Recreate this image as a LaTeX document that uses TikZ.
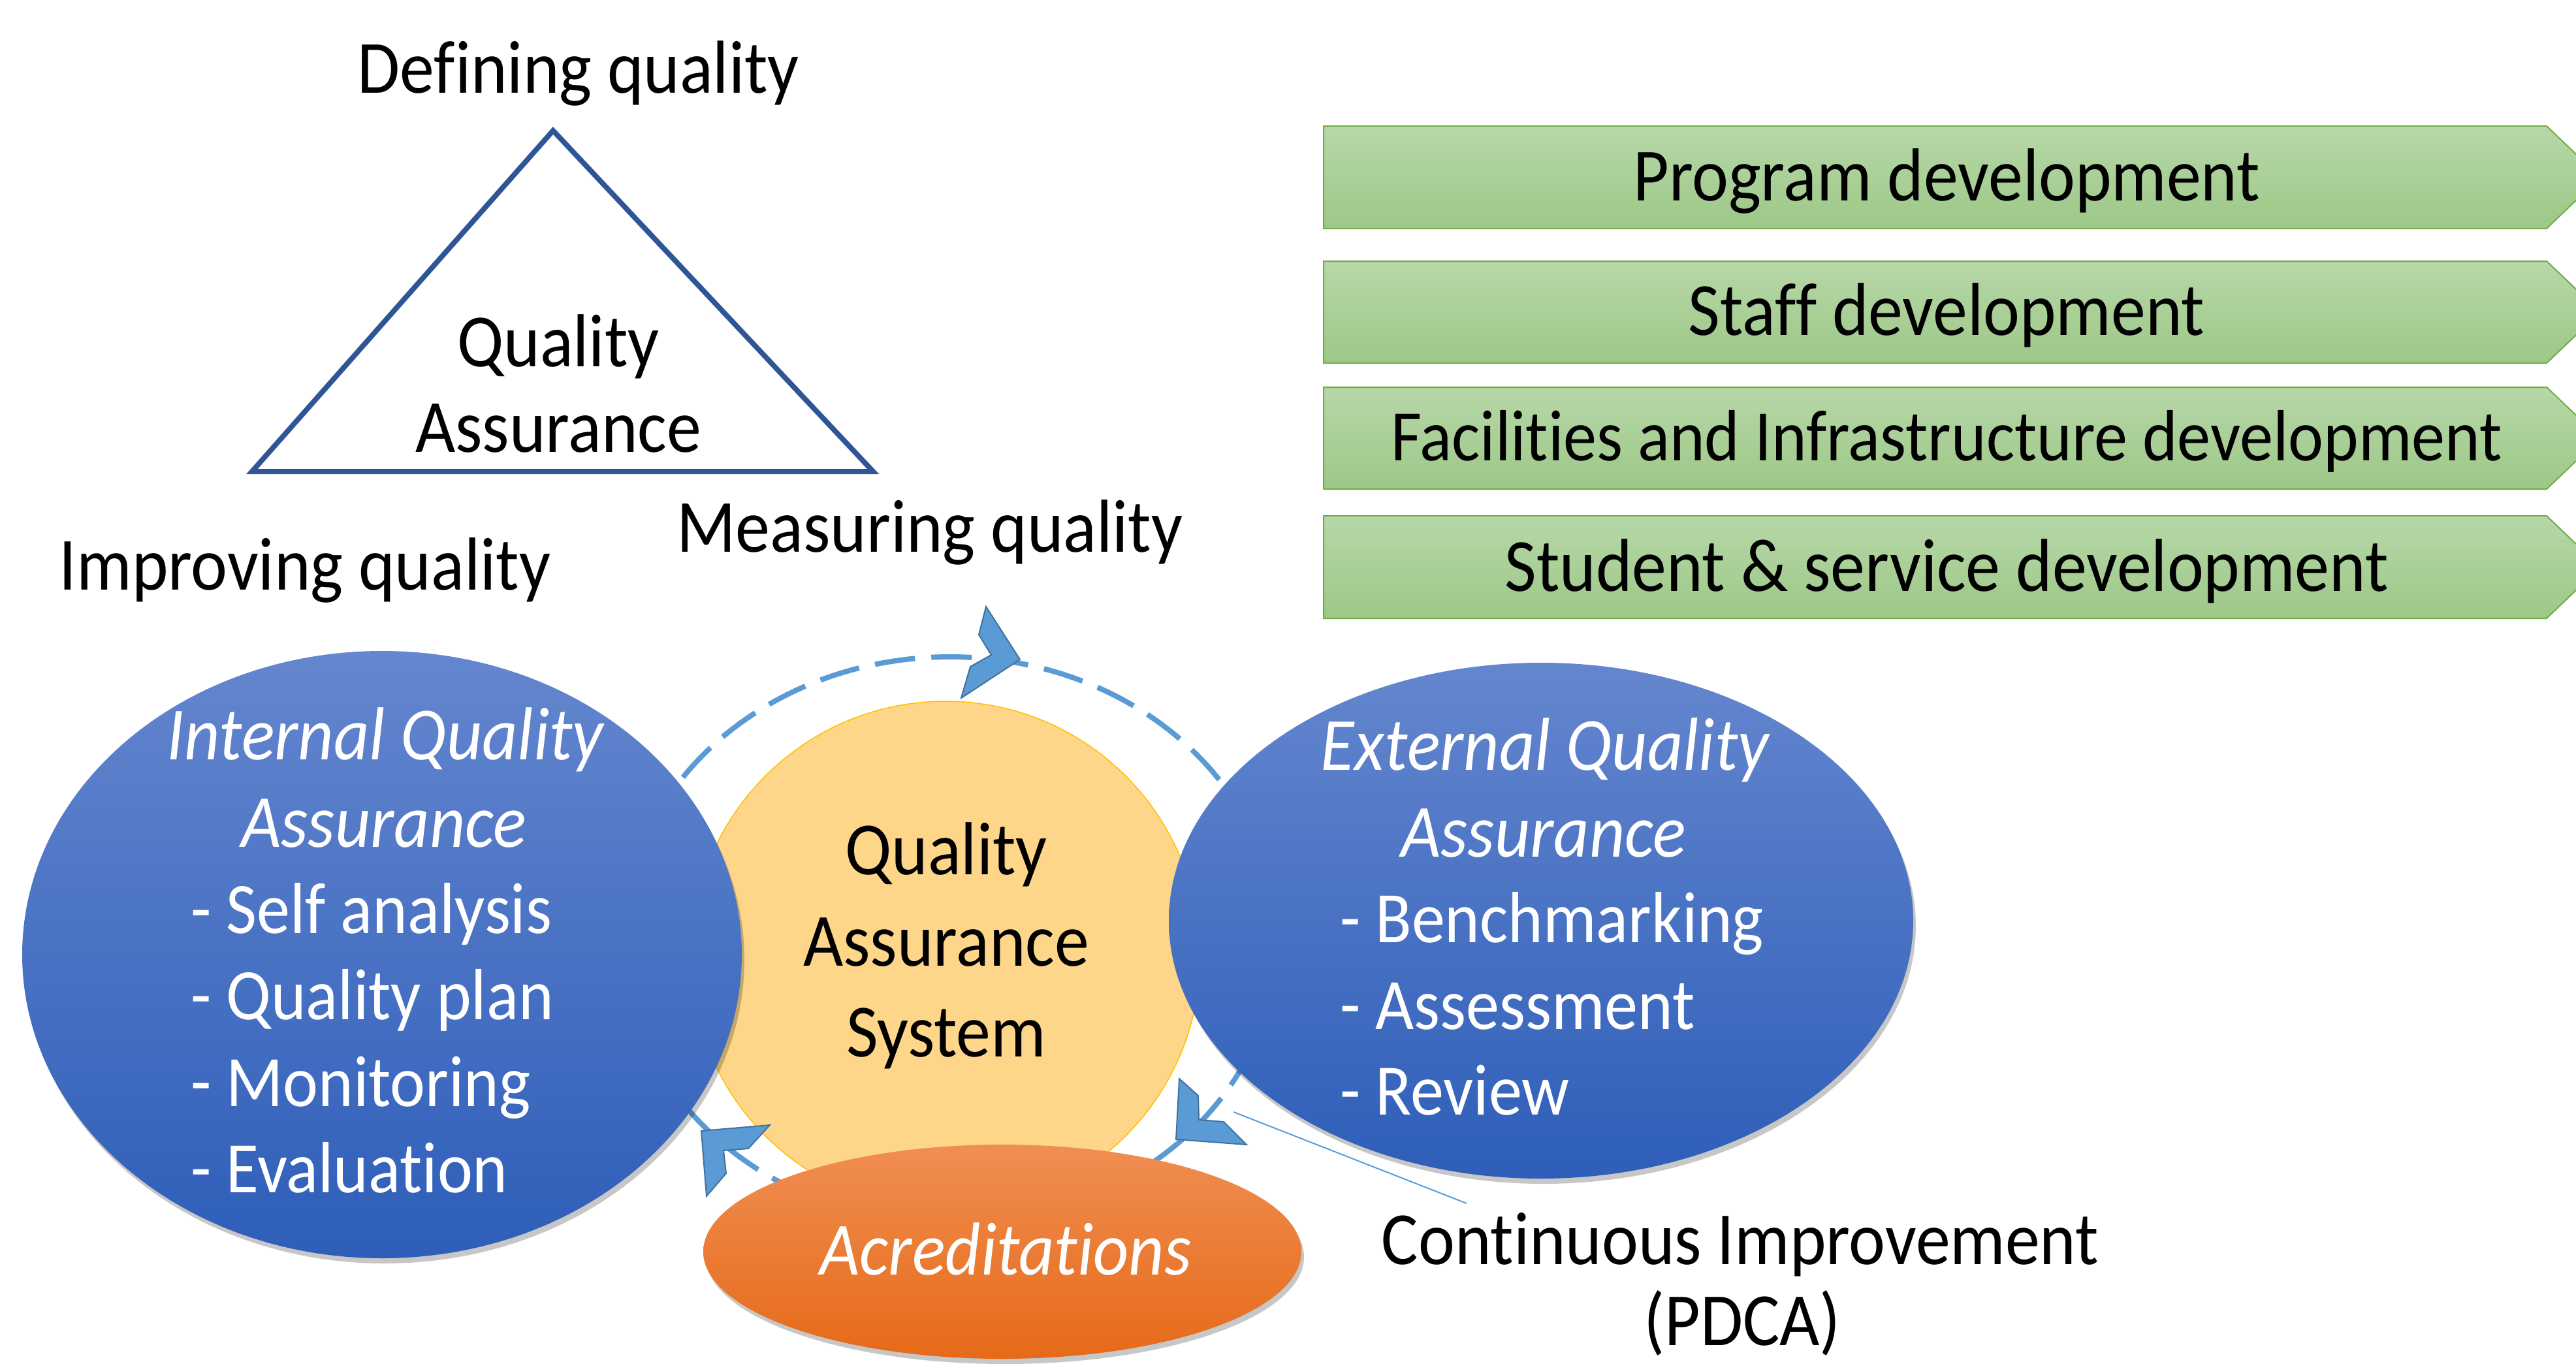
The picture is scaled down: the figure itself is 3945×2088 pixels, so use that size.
\documentclass[tikz,border=0pt]{standalone}
\usepackage{fontspec}
\setmainfont{Carlito}[FakeStretch=0.92, Ligatures=NoCommon]
\usetikzlibrary{shapes.geometric,shadows}
\definecolor{triblue}{HTML}{2F5597}
\definecolor{dashblue}{HTML}{5B9BD5}
\definecolor{arrowedge}{HTML}{41719C}
\definecolor{bluetop}{RGB}{100,134,206}
\definecolor{bluebot}{RGB}{46,94,185}
\definecolor{yellowfill}{RGB}{254,214,137}
\definecolor{yellowedge}{HTML}{FFC000}
\definecolor{orangetop}{RGB}{240,142,82}
\definecolor{orangebot}{RGB}{230,106,24}
\definecolor{greentop}{RGB}{183,215,168}
\definecolor{greenbot}{RGB}{157,200,135}
\definecolor{greenedge}{HTML}{70AD47}
\tikzset{
  lbl/.style={inner sep=0pt, anchor=base, font=\fontsize{115}{131}\selectfont},
  lblw/.style={lbl, anchor=base west, text=white, font=\fontsize{111}{131}\selectfont},
  lblwi/.style={lbl, text=white, font=\fontsize{115}{131}\selectfont\itshape},
  softshadow/.style={drop shadow={shadow xshift=4pt, shadow yshift=-8pt, opacity=0.22, fill=black}},
  blueell/.style={ellipse, inner sep=0pt, draw=none, top color=bluetop, bottom color=bluebot, softshadow},
  greenbox/.style={top color=greentop, bottom color=greenbot, draw=greenedge, line width=2pt},
  chevron/.style={fill=dashblue, draw=arrowedge, line width=2pt, line join=miter},
  cycledash/.style={draw=dashblue, line width=8pt, dash pattern=on 62pt off 25pt},
}
\begin{document}
\begin{tikzpicture}[x=1pt, y=-1pt]
\path[use as bounding box] (0,0) rectangle (3945,2088);
\clip (0,0) rectangle (3945,2088);
\fill[white] (0,0) rectangle (3945,2088);

% triangle
\draw[triblue, line width=8pt, line join=miter] (847,200) -- (1337,722) -- (386,722) -- cycle;
\node[lbl] (defq) at (886,142) {Defining quality};
\node[lbl] (triq) at (855,561) {Quality};
\node[lbl] (tria) at (855,692) {Assurance};
\node[lbl] (impq) at (467,903) {Improving quality};
\node[lbl] (meaq) at (1424,845) {Measuring quality};

% green development arrows
\path[greenbox] (2027,193) -- (3900,193) -- (3982,271.5) -- (3900,350) -- (2027,350) -- cycle;
\path[greenbox] (2027,400) -- (3900,400) -- (3982,478) -- (3900,556) -- (2027,556) -- cycle;
\path[greenbox] (2027,593) -- (3900,593) -- (3982,671) -- (3900,749) -- (2027,749) -- cycle;
\path[greenbox] (2027,790) -- (3900,790) -- (3982,868.5) -- (3900,947) -- (2027,947) -- cycle;
\node[lbl] (prog) at (2981,307) {Program development};
\node[lbl] (staff) at (2981,513) {Staff development};
\node[lbl, font=\fontsize{111}{131}\selectfont] (facil) at (2981,705) {Facilities and Infrastructure development};
\node[lbl] (stud) at (2981,905) {Student \& service development};

% dashed cycle
\draw[cycledash] (1455,1440) ellipse [x radius=500, y radius=434];

% central circle
\node[circle, minimum size=780pt, inner sep=0pt, fill=yellowfill, draw=yellowedge, line width=1.5pt] (qas) at (1448,1464) {};

% blue ellipses
\node[blueell, minimum width=1102pt, minimum height=930pt] (iqa) at (585,1462) {};
\node[blueell, minimum width=1140pt, minimum height=790pt] (eqa) at (2360,1410) {};

% orange ellipse
\node[ellipse, inner sep=0pt, minimum width=916pt, minimum height=328pt, top color=orangetop, bottom color=orangebot, softshadow] (acr) at (1535,1917) {};

% arrowheads
\path[chevron] (1510,929) -- (1562,1010) -- (1472,1069) -- (1486,1021) -- (1518,1003) -- (1499,972) -- cycle;
\path[chevron] (1074,1732) -- (1179,1723) -- (1146,1759) -- (1108,1762) -- (1112,1797) -- (1082,1832) -- cycle;
\path[chevron] (1806,1652) -- (1835,1678) -- (1836,1715) -- (1874,1718) -- (1909,1753) -- (1801,1745) -- cycle;

% callout line
\coordinate (calA) at (1889,1703);
\coordinate (calB) at (2246,1843);
\draw[dashblue, line width=2pt] (calA) -- (calB);

% central texts
\node[lbl] (qas1) at (1449,1339) {Quality};
\node[lbl] (qas2) at (1449,1479) {Assurance};
\node[lbl] (qas3) at (1449,1618) {System};

% internal QA texts
\node[lblwi] (iqa1) at (590,1163) {Internal Quality};
\node[lblwi] (iqa2) at (588,1297) {Assurance};
\node[lblw] (iqa3) at (292,1429) {- Self analysis};
\node[lblw] (iqa4) at (292,1561) {- Quality plan};
\node[lblw] (iqa5) at (292,1694) {- Monitoring};
\node[lblw] (iqa6) at (292,1826) {- Evaluation};

% external QA texts
\node[lblwi] (eqa1) at (2366,1179) {External Quality};
\node[lblwi] (eqa2) at (2364,1312) {Assurance};
\node[lblw] (eqa3) at (2052,1443) {- Benchmarking};
\node[lblw] (eqa4) at (2052,1576) {- Assessment};
\node[lblw] (eqa5) at (2052,1707) {- Review};

% accreditations
\node[lblwi] (acrt) at (1540,1952) {Acreditations};

% continuous improvement
\node[lbl] (ci1) at (2665,1936) {Continuous Improvement};
\node[lbl] (ci2) at (2668,2060) {(PDCA)};
\end{tikzpicture}
\end{document}
